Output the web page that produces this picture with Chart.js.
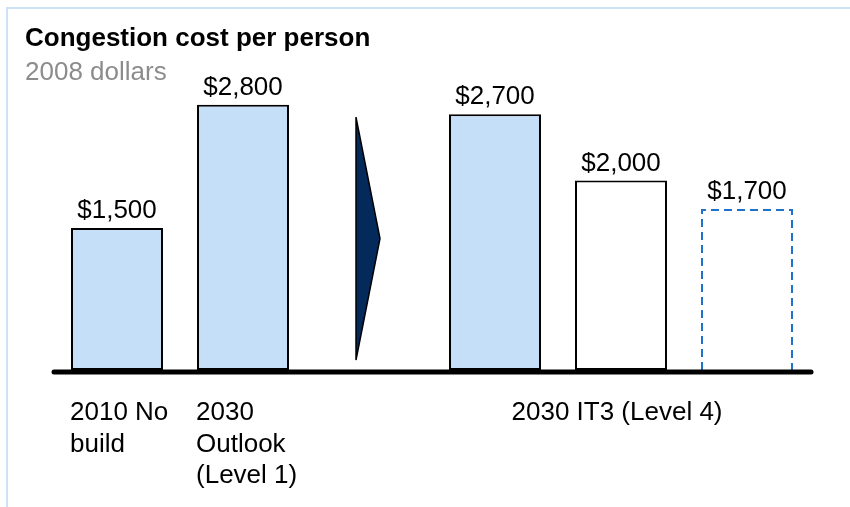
<!DOCTYPE html>
<html>
<head>
<meta charset="utf-8">
<script src="https://cdn.jsdelivr.net/npm/chart.js@4/dist/chart.umd.min.js"></script>
<style>
  html, body { margin: 0; padding: 0; background: #ffffff; }
  #wrap { width: 850px; height: 507px; }
</style>
</head>
<body>
<div id="wrap"><canvas id="c" width="850" height="507"></canvas></div>
<script>
// ---- Data ----
const categories = ['2010 No build', '2030 Outlook (Level 1)', '', '2030 IT3 (Level 4) A', '2030 IT3 (Level 4) B', '2030 IT3 (Level 4) C'];
const costValues = [1500, 2800, null, 2700, 2000, 1700];
const valueLabels = ['$1,500', '$2,800', '', '$2,700', '$2,000', '$1,700'];
const axisLabels = [['2010 No', 'build'], ['2030', 'Outlook', '(Level 1)'], [], [], [], []];
const groupLabel = '2030 IT3 (Level 4)';
const groupLabelIndex = 4;
const arrowIndex = 2;
const arrowRange = [105, 2670]; // arrow extent in dollars
const dashedIndex = 5;
const yMax = 2975;
const titleText = 'Congestion cost per person';
const subtitleText = '2008 dollars';

const FONT = "'Liberation Sans', Arial, Helvetica, sans-serif";
Chart.defaults.font.family = FONT;

const decorPlugin = {
  id: 'decor',
  beforeDraw(chart) {
    const ctx = chart.ctx;
    ctx.save();
    ctx.strokeStyle = '#CDE1F7';
    ctx.lineWidth = 2;
    ctx.beginPath();
    ctx.moveTo(7, 507);
    ctx.lineTo(7, 8);
    ctx.lineTo(850, 8);
    ctx.stroke();
    ctx.restore();
  },
  afterDatasetsDraw(chart) {
    const ctx = chart.ctx;
    const xs = chart.scales.x, ys = chart.scales.y;
    const meta = chart.getDatasetMeta(0);
    const base = ys.getPixelForValue(0);

    // dashed bar outline
    const el = meta.data[dashedIndex];
    if (el) {
      const p = el.getProps(['x', 'y', 'base', 'width'], true);
      const l = p.x - p.width / 2 + 1, r = p.x + p.width / 2 - 1;
      ctx.save();
      ctx.strokeStyle = '#1F72CC';
      ctx.lineWidth = 2;
      ctx.setLineDash([8, 5]);
      ctx.beginPath();
      ctx.moveTo(l, p.base);
      ctx.lineTo(l, p.y + 1);
      ctx.lineTo(r, p.y + 1);
      ctx.lineTo(r, p.base);
      ctx.stroke();
      ctx.restore();
    }

    // arrow
    const cx = xs.getPixelForValue(arrowIndex);
    const yTop = ys.getPixelForValue(arrowRange[1]);
    const yBot = ys.getPixelForValue(arrowRange[0]);
    ctx.save();
    ctx.fillStyle = '#042A5C';
    ctx.strokeStyle = '#000000';
    ctx.lineWidth = 1.5;
    ctx.lineJoin = 'miter';
    ctx.beginPath();
    ctx.moveTo(cx - 13, yTop);
    ctx.lineTo(cx + 11, (yTop + yBot) / 2);
    ctx.lineTo(cx - 13, yBot);
    ctx.closePath();
    ctx.fill();
    ctx.stroke();
    ctx.restore();

    // baseline
    ctx.save();
    ctx.strokeStyle = '#000000';
    ctx.lineWidth = 5;
    ctx.lineCap = 'round';
    ctx.beginPath();
    ctx.moveTo(chart.chartArea.left, base + 2);
    ctx.lineTo(chart.chartArea.right + 1, base + 2);
    ctx.stroke();
    ctx.restore();

    // value labels
    ctx.save();
    ctx.fillStyle = '#000000';
    ctx.font = '26px ' + FONT;
    ctx.textAlign = 'center';
    ctx.textBaseline = 'alphabetic';
    meta.data.forEach((bar, i) => {
      if (costValues[i] == null) return;
      const p = bar.getProps(['x', 'y'], true);
      ctx.fillText(valueLabels[i], p.x, p.y - 10);
    });
    ctx.restore();

    // category labels
    ctx.save();
    ctx.fillStyle = '#000000';
    ctx.font = '26px ' + FONT;
    ctx.textBaseline = 'alphabetic';
    ctx.textAlign = 'left';
    axisLabels.forEach((lines, i) => {
      const bar = meta.data[i];
      if (!lines.length || !bar) return;
      const p = bar.getProps(['x', 'width'], true);
      lines.forEach((t, k) => ctx.fillText(t, p.x - p.width / 2 - 1, base + 50 + k * 31.5));
    });
    ctx.textAlign = 'center';
    ctx.fillText(groupLabel, xs.getPixelForValue(groupLabelIndex) - 4, base + 50);
    ctx.restore();
  }
};

new Chart(document.getElementById('c'), {
  type: 'bar',
  data: {
    labels: categories,
    datasets: [{
      data: costValues,
      backgroundColor: ['#C6DFF8', '#C6DFF8', 'rgba(0,0,0,0)', '#C6DFF8', '#FFFFFF', 'rgba(0,0,0,0)'],
      borderColor: '#000000',
      borderWidth: [2, 2, 0, 2, 2, 0],
      borderSkipped: false,
      categoryPercentage: 1,
      barPercentage: 0.73
    }]
  },
  options: {
    responsive: false,
    animation: false,
    layout: { padding: { left: 25, right: 40, top: 0, bottom: 137 } },
    plugins: {
      legend: { display: false },
      tooltip: { enabled: false },
      title: {
        display: true, text: titleText, align: 'start', color: '#000000',
        font: { size: 26, weight: 'bold', lineHeight: 1.2 },
        padding: { top: 23.5, bottom: 0 }
      },
      subtitle: {
        display: true, text: subtitleText, align: 'start', color: '#8C8C8C',
        font: { size: 26, weight: 'normal', lineHeight: 1.2 },
        padding: { top: 2.3, bottom: 0 }
      }
    },
    scales: {
      x: { display: false },
      y: {
        min: 0, max: yMax,
        grid: { display: false },
        border: { display: false },
        ticks: { display: false },
        afterFit(scale) { scale.width = 29; }
      }
    }
  },
  plugins: [decorPlugin]
});
</script>
</body>
</html>
